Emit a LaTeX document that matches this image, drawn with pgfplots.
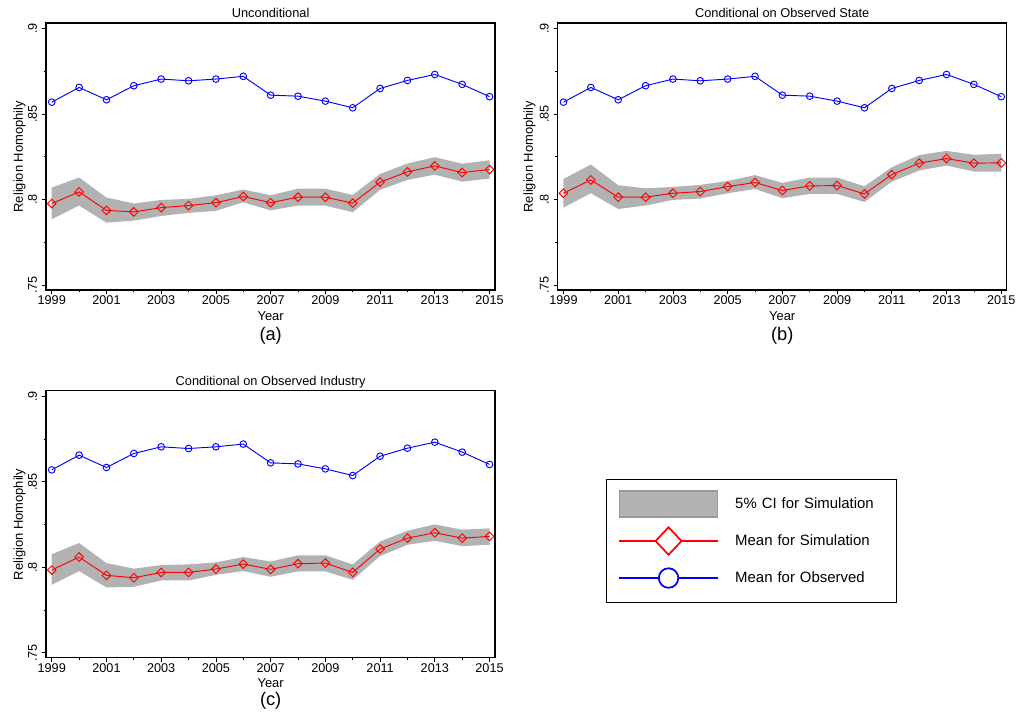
\documentclass[border=0pt]{standalone}
\usepackage{fontspec}
\setmainfont{Liberation Sans}
\usepackage{pgfplots}
\usepackage{pgfplotstable}
\pgfplotsset{compat=1.18}
\usepgfplotslibrary{fillbetween}

\pgfplotstableread{
year obs sim lo hi
1999 0.8570 0.7977 0.7885 0.8070
2000 0.8656 0.8045 0.7965 0.8129
2001 0.8584 0.7937 0.7865 0.8012
2002 0.8666 0.7928 0.7877 0.7977
2003 0.8705 0.7953 0.7904 0.7998
2004 0.8695 0.7965 0.7922 0.8004
2005 0.8705 0.7982 0.7934 0.8025
2006 0.8721 0.8018 0.7984 0.8059
2007 0.8611 0.7982 0.7937 0.8025
2008 0.8605 0.8014 0.7965 0.8064
2009 0.8576 0.8014 0.7965 0.8064
2010 0.8537 0.7979 0.7926 0.8027
2011 0.8650 0.8102 0.8057 0.8150
2012 0.8697 0.8162 0.8115 0.8211
2013 0.8732 0.8197 0.8146 0.8248
2014 0.8674 0.8158 0.8105 0.8210
2015 0.8602 0.8176 0.8123 0.8230
}\tA

\pgfplotstableread{
year obs sim lo hi
1999 0.8570 0.8037 0.7953 0.8121
2000 0.8656 0.8115 0.8037 0.8205
2001 0.8584 0.8014 0.7945 0.8084
2002 0.8666 0.8014 0.7965 0.8066
2003 0.8705 0.8037 0.7998 0.8074
2004 0.8695 0.8047 0.8006 0.8086
2005 0.8705 0.8076 0.8037 0.8109
2006 0.8721 0.8100 0.8062 0.8143
2007 0.8611 0.8053 0.8008 0.8098
2008 0.8605 0.8080 0.8033 0.8129
2009 0.8576 0.8082 0.8033 0.8129
2010 0.8537 0.8033 0.7986 0.8078
2011 0.8650 0.8146 0.8105 0.8189
2012 0.8697 0.8213 0.8170 0.8260
2013 0.8732 0.8240 0.8199 0.8285
2014 0.8674 0.8213 0.8164 0.8262
2015 0.8602 0.8215 0.8164 0.8268
}\tB

\pgfplotstableread{
year obs sim lo hi
1999 0.8570 0.7984 0.7898 0.8077
2000 0.8656 0.8060 0.7978 0.8142
2001 0.8584 0.7953 0.7882 0.8025
2002 0.8666 0.7939 0.7886 0.7992
2003 0.8705 0.7970 0.7923 0.8013
2004 0.8695 0.7970 0.7923 0.8017
2005 0.8705 0.7990 0.7956 0.8029
2006 0.8721 0.8019 0.7978 0.8060
2007 0.8611 0.7988 0.7945 0.8034
2008 0.8605 0.8021 0.7976 0.8070
2009 0.8576 0.8025 0.7976 0.8070
2010 0.8537 0.7970 0.7927 0.8017
2011 0.8650 0.8107 0.8066 0.8151
2012 0.8697 0.8171 0.8132 0.8214
2013 0.8732 0.8202 0.8155 0.8251
2014 0.8674 0.8171 0.8124 0.8220
2015 0.8602 0.8181 0.8132 0.8228
}\tC

\pgfplotsset{
  panel/.style={
    scale only axis, width=336.75pt, height=200.25pt,
    xmin=1998.79, xmax=2015.2, ymin=0.7471, ymax=0.9033,
    xtick={1999,2001,2003,2005,2007,2009,2011,2013,2015},
    xticklabels={1999,2001,2003,2005,2007,2009,2011,2013,2015},
    minor xtick={2000,2002,2004,2006,2008,2010,2012,2014},
    ytick={0.75,0.8,0.85,0.9}, yticklabels={.75,.8,.85,.9},
    minor ytick={0.775,0.825,0.875},
    tick align=outside, tick pos=left,
    major tick length=3pt, minor tick length=1.8pt,
    axis line style={line width=0.9pt, black},
    tick style={black, line width=0.6pt},
    tick label style={font=\fontsize{9.5}{11}\selectfont, inner sep=0pt},
    yticklabel style={rotate=90, anchor=south},
    xticklabel style={anchor=north},
    yticklabel shift=3.5pt, xticklabel shift=1.3pt,
  },
  bandst/.style={fill=black!30, draw=none},
  simst/.style={red, line width=0.7pt, mark=square, mark size=2.3pt,
    mark options={rotate=45, solid, line width=0.7pt}},
  obsst/.style={blue, line width=0.7pt, mark=o, mark size=2.5pt,
    mark options={solid, line width=0.7pt}},
}
\newcommand\ttl{\fontsize{9.6}{11}\selectfont}
\newcommand\lbl{\fontsize{9.7}{11}\selectfont}
\newcommand\pan{\fontsize{13.7}{15}\selectfont}

\begin{document}
\begin{tikzpicture}

% Panel (a)
\begin{axis}[panel, at={(34.5pt,-217.5pt)}, anchor=south west]
\addplot[name path=hi, draw=none, forget plot] table[x=year,y=hi]{\tA};
\addplot[name path=lo, draw=none, forget plot] table[x=year,y=lo]{\tA};
\addplot[bandst] fill between[of=hi and lo];
\addplot[simst] table[x=year,y=sim]{\tA};
\addplot[obsst] table[x=year,y=obs]{\tA};
\end{axis}

% Panel (b)
\begin{axis}[panel, at={(418.3pt,-217.5pt)}, anchor=south west]
\addplot[name path=hi, draw=none, forget plot] table[x=year,y=hi]{\tB};
\addplot[name path=lo, draw=none, forget plot] table[x=year,y=lo]{\tB};
\addplot[bandst] fill between[of=hi and lo];
\addplot[simst] table[x=year,y=sim]{\tB};
\addplot[obsst] table[x=year,y=obs]{\tB};
\end{axis}

% Panel (c)
\begin{axis}[panel, at={(34.5pt,-493.3pt)}, anchor=south west,
  legend style={at={(1.248,0.669)}, anchor=north west, draw=black, line width=0.8pt,
    inner xsep=8.25pt, inner ysep=4.4pt, row sep=0pt, column sep=12pt,
    font=\fontsize{11.2}{13}\selectfont,
    nodes={inner sep=0pt, text width=113pt, align=left}},
  legend cell align=left]
\addplot[name path=hi, draw=none, forget plot] table[x=year,y=hi]{\tC};
\addplot[name path=lo, draw=none, forget plot] table[x=year,y=lo]{\tC};
\addplot[bandst, legend image code/.code={
  \path[draw=none, fill=none] (0pt,-13.875pt) rectangle (74.7pt,13.875pt);
  \draw[fill=black!30, draw=black!40, line width=1.2pt] (0.6pt,-9.75pt) rectangle (74.1pt,9.75pt);}]
  fill between[of=hi and lo];
\addlegendentry{5\% CI for Simulation}
\addplot[simst, legend image code/.code={
  \path[draw=none, fill=none] (0pt,-13.875pt) rectangle (74.7pt,13.875pt);
  \draw[red, line width=1.3pt] (0pt,0pt) -- (74.7pt,0pt);
  \draw[red, line width=1.3pt, fill=white] (37.35pt,-10.3pt) -- (47.1pt,0pt) -- (37.35pt,10.3pt) -- (27.6pt,0pt) -- cycle;}]
  table[x=year,y=sim]{\tC};
\addlegendentry{Mean for Simulation}
\addplot[obsst, legend image code/.code={
  \path[draw=none, fill=none] (0pt,-13.875pt) rectangle (74.7pt,13.875pt);
  \draw[blue, line width=1.3pt] (0pt,0pt) -- (74.7pt,0pt);
  \draw[blue, line width=1.3pt, fill=white] (37.35pt,0pt) circle (7.3pt);}]
  table[x=year,y=obs]{\tC};
\addlegendentry{Mean for Observed}
\end{axis}

% Titles
\node[anchor=base, font=\ttl] at (203pt,-13.3pt) {Unconditional};
\node[anchor=base, font=\ttl] at (586.65pt,-13.3pt) {Conditional on Observed State};
\node[anchor=base, font=\ttl] at (203pt,-288.75pt) {Conditional on Observed Industry};
% x labels
\node[anchor=base, font=\lbl] at (203pt,-240pt) {Year};
\node[anchor=base, font=\lbl] at (586.65pt,-240pt) {Year};
\node[anchor=base, font=\lbl] at (203pt,-515.8pt) {Year};
% y labels
\node[anchor=base, rotate=90, font=\lbl] at (17.1pt,-117.5pt) {Religion Homophily};
\node[anchor=base, rotate=90, font=\lbl] at (399.6pt,-117.5pt) {Religion Homophily};
\node[anchor=base, rotate=90, font=\lbl] at (17.1pt,-393.3pt) {Religion Homophily};
% panel letters
\node[anchor=base, font=\pan] at (203pt,-255pt) {(a)};
\node[anchor=base, font=\pan] at (586.65pt,-255pt) {(b)};
\node[anchor=base, font=\pan] at (203pt,-529pt) {(c)};

\path[use as bounding box] (0pt,0pt) rectangle (763.5pt,-536.25pt);
\end{tikzpicture}
\end{document}
